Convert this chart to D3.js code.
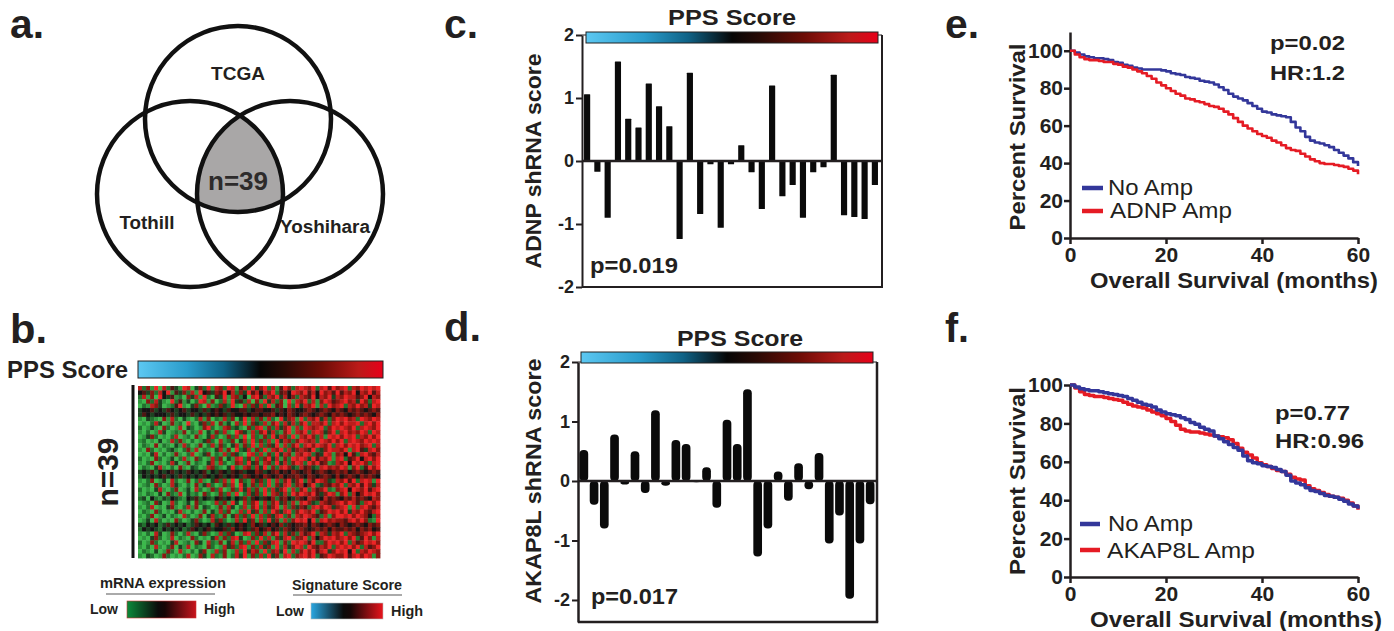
<!DOCTYPE html>
<html><head><meta charset="utf-8">
<script src="https://cdn.jsdelivr.net/npm/d3@7"></script>
<style>body{margin:0;background:#fff}svg{display:block;font-family:"Liberation Sans",Arial,Helvetica,sans-serif}</style>
</head><body><svg id="fig" width="1394" height="631"></svg>
<script>
// ---------------- DATA ----------------
const vennSets = ["TCGA", "Tothill", "Yoshihara"];
const vennOverlap = "n=39";
const barTicks = [2, 1, 0, -1, -2];
const adnpScores = [1.06, -0.17, -0.9, 1.58, 0.67, 0.53, 1.23, 0.87, 0.55, -1.24, 1.4, -0.84, -0.05, -1.06, -0.05,
  0.25, -0.18, -0.76, 1.2, -0.56, -0.38, -0.9, -0.18, -0.1, 1.37, -0.86, -0.89, -0.92, -0.38];
const akap8lScores = [0.52, -0.4, -0.8, 0.78, -0.06, 0.5, -0.2, 1.19, -0.08, 0.69, 0.62, -0.02, 0.23, -0.45, 1.03,
  0.62, 1.54, -1.27, -0.8, 0.16, -0.33, 0.3, -0.14, 0.47, -1.05, -0.58, -1.98, -1.05, -0.39];
const survTicksY = [0, 20, 40, 60, 80, 100];
const survTicksX = [0, 20, 40, 60];
const kmMonths = [0,1,2,3,4,5,6,7,8,9,10,11,12,13,14,15,16,17,18,19,20,21,22,23,24,25,26,27,28,29,30,
  31,32,33,34,35,36,37,38,39,40,41,42,43,44,45,46,47,48,49,50,51,52,53,54,55,56,57,58,59,60];
const eNoAmp = [100,99,98,97,96.5,96,96,95.5,95,94,93.5,92.5,92,91,90.5,90,90,90,90,89.5,89,88,87.5,87,86,85.5,85,84,83.5,83,82,
  80.5,79,77,75.5,74.5,73.5,72,70.5,69,67.5,67,66,65.5,65,64.5,62,59,57,54,52,51,50.5,49.5,48.5,47,45.5,44,42.5,40.5,38.5];
const eAdnpAmp = [100,98,96.5,95.5,95,95,94.5,94,94,93,92.5,91.5,91,90,89,88,86.5,85,83,81.5,80,78.5,77,76,74.5,74,73,72.5,71.5,70.5,70,
  69,67.5,66,64,62,60,58.5,57,55.5,54.5,53.5,52,51,49.5,48,47,46.5,45,43.5,42,41,40,39.5,39.5,39,38.5,38,37,36,34];
const fNoAmp = [100,99,98,97.5,97,97,96.5,96,95.5,95,94.5,94,93,92,91,90,89.5,88.5,87,86,85,84.5,84,83,82,80.5,79.5,78,77,76,73.5,
  72,70.5,69,67.5,66,63,60.5,59.5,59,58,57.5,57,56,55,53,50,49,48,46.5,45,44.5,43.5,42.5,42,41.5,40.5,39.5,38,37,35.5];
const fAkapAmp = [100,98.5,96.5,95,94.5,94,94,93.5,93,92.5,92,91,90,89,88.5,88,87,86,85,84,82.5,81,79,77,76,75.5,75.5,75,74.5,74,73.5,
  73,72.5,71.5,69.5,67,65,63.5,62,59.5,58.5,57.5,56.5,55.5,55,53.5,52,51,50.5,47.5,46,45,44,43,42,41.5,41,40,38.5,37,35];
// heatmap: 39 genes x samples, 0 = low (green) .. 4 = mid (black) .. 8 = high (red)
const heatRows = [
  "7261807253"+"1870362817"+"6287157283"+"6827158627"+"8768278586"+"7827687878",
  "4536274815"+"3627184536"+"5847263857"+"4768256487"+"6857486758"+"5768476857",
  "2716084351"+"2063718205"+"3817624078"+"5276837462"+"7658476837"+"6877568476",
  "1062731082"+"5130287160"+"2718352706"+"1837260817"+"6827168756"+"7867386278",
  "0217630125"+"8103620712"+"6328107263"+"7281560728"+"3768172867"+"8276867387",
  "3445343543"+"4534435345"+"4354455345"+"5445354654"+"4565456546"+"5465654565",
  "3543444353"+"4435343545"+"4535445455"+"4556454654"+"5654565465"+"6545656546",
  "1032106172"+"0310271602"+"1726038172"+"6172083671"+"8276837268"+"7867287687",
  "0102730161"+"2081036270"+"6130728163"+"2716827372"+"6827768278"+"6877827868",
  "2013106201"+"7032016820"+"1762310627"+"8162736817"+"2876782687"+"8768278768",
  "1020173012"+"1602170316"+"2710863172"+"6837216817"+"6827873682"+"7867687287",
  "0136201027"+"0120610372"+"0162718072"+"1628376281"+"7686271878"+"6878276868",
  "1201030172"+"6102013620"+"7126037182"+"6271837626"+"8767287686"+"8278768787",
  "0210602103"+"1720160271"+"6203716281"+"7263817268"+"2786876827"+"8687867827",
  "1062010231"+"0261702103"+"7160823716"+"2817682736"+"7658236877"+"6817853786",
  "0103702016"+"1027013602"+"1726310872"+"7162837617"+"6872538716"+"7485278657",
  "2010620130"+"2710620172"+"6031782617"+"2683716287"+"8738576817"+"8256847868",
  "1026010273"+"0160210371"+"7201672836"+"1762837268"+"7286856127"+"6848786278",
  "0210371020"+"6103201762"+"1038217627"+"3816278632"+"7563278676"+"8716825868",
  "3435243453"+"4354345243"+"5435453446"+"5345645465"+"4564565456"+"5645654565",
  "2434345343"+"5343435434"+"5345436545"+"4654564556"+"5465456546"+"4565465654",
  "1026013072"+"0160271036"+"2718062173"+"6281726836"+"8275876327"+"6858278718",
  "0120620173"+"1020613720"+"1627083162"+"7281637826"+"7468236576"+"8276858637",
  "2010371026"+"0130720162"+"7016283726"+"1827368172"+"6827568216"+"7848768578",
  "1021030621"+"7031206201"+"6271802736"+"2817637286"+"8768536871"+"6827468786",
  "2304213243"+"2143524324"+"5342436254"+"3546256436"+"5476547565"+"4657565476",
  "0120630172"+"0130621017"+"2618307268"+"1726836271"+"7863276567"+"8687527868",
  "1027010361"+"0271603201"+"6173027168"+"2736817263"+"6527868736"+"7818278657",
  "0210620103"+"7102016031"+"7260172836"+"1728637826"+"8768256878"+"6837686578",
  "1026013021"+"0720160372"+"1603726281"+"7263782617"+"6876527168"+"8786876427",
  "0130720106"+"2013620173"+"6201728361"+"7283617268"+"7848278676"+"6578686218",
  "3243423534"+"3423543425"+"4353454364"+"5345463545"+"5646545654"+"6545654656",
  "2434324343"+"4235434534"+"4536454356"+"4564536545"+"6545656465"+"5656465645",
  "1020730162"+"0271036201"+"7263017826"+"3716827362"+"7568276376"+"8276567868",
  "0103620170"+"2106201037"+"1627830162"+"8271637826"+"6827468786"+"7868258617",
  "2016201037"+"0120630721"+"6037162718"+"2637816287"+"8758226878"+"6827568786",
  "1020710260"+"3170210620"+"1736278162"+"7361827368"+"7286576827"+"8786827568",
  "0210301620"+"7102036017"+"2601728376"+"1826738172"+"6868578368"+"7848276876",
  "1032016201"+"0270163072"+"1602738162"+"7283617826"+"7868256876"+"6857868716"
];

// ---------------- HELPERS ----------------
const INK = '#231f20';
const svg = d3.select('#fig');
const defs = svg.append('defs');
function label(p, x, y, s, size, o = {}) {
  const t = p.append('text').attr('x', x).attr('y', y).text(s)
    .attr('font-size', size).attr('font-weight', o.weight || 'bold')
    .attr('fill', o.fill || INK).attr('text-anchor', o.anchor || 'start');
  if (o.w) t.attr('textLength', o.w).attr('lengthAdjust', 'spacingAndGlyphs');
  return t;
}
function gradient(id, stops) {
  const g = defs.append('linearGradient').attr('id', id).attr('x1', 0).attr('x2', 1).attr('y1', 0).attr('y2', 0);
  stops.forEach(s => g.append('stop').attr('offset', s[0]).attr('stop-color', s[1]));
}
gradient('pps', [[0, '#5cc8f2'], [0.2, '#2a9ccb'], [0.35, '#0f6286'], [0.5, '#060606'], [0.6, '#2a0a05'], [0.75, '#6e0d06'], [0.9, '#bb1a19'], [1, '#e8001a']]);
gradient('mrna', [[0, '#0b8b3b'], [0.45, '#0b0b0b'], [0.55, '#170606'], [1, '#c8141c']]);
gradient('sig', [[0, '#2aa7e2'], [0.45, '#0b0b0b'], [0.55, '#170606'], [1, '#e8141c']]);

// panel letters
label(svg, 10, 38, 'a.', 40, { w: 34 });
label(svg, 10, 343, 'b.', 40, { w: 37 });
label(svg, 444, 38, 'c.', 40, { w: 34 });
label(svg, 444, 341, 'd.', 40, { w: 37 });
label(svg, 945, 38, 'e.', 40, { w: 34 });
label(svg, 945, 342, 'f.', 40, { w: 24 });

// ---------------- PANEL A: VENN ----------------
(function () {
  const g = svg.append('g');
  const centers = [[238, 119], [190, 194], [290, 194]];
  const r = 93;
  centers.forEach((c, i) => {
    defs.append('clipPath').attr('id', 'vc' + i).append('circle').attr('cx', c[0]).attr('cy', c[1]).attr('r', r);
  });
  g.append('g').attr('clip-path', 'url(#vc0)')
    .append('g').attr('clip-path', 'url(#vc1)')
    .append('circle').attr('cx', centers[2][0]).attr('cy', centers[2][1]).attr('r', r).attr('fill', '#a9a7a7');
  g.selectAll('circle.v').data(vennSets).join('circle').attr('class', 'v')
    .attr('cx', (d, i) => centers[i][0]).attr('cy', (d, i) => centers[i][1]).attr('r', r)
    .attr('fill', 'none').attr('stroke', '#111').attr('stroke-width', 4.5);
  const lp = [[238, 80, 54], [147, 229, 55], [325, 233, 90]];
  vennSets.forEach((s, i) => label(g, lp[i][0], lp[i][1], s, 18, { anchor: 'middle', w: lp[i][2] }));
  label(g, 238, 190, vennOverlap, 26, { anchor: 'middle', w: 60, fill: '#2d2b2b' });
})();

// ---------------- PANEL B: HEATMAP ----------------
(function () {
  const g = svg.append('g');
  label(g, 7, 378, 'PPS Score', 24, { w: 121 });
  g.append('rect').attr('x', 138).attr('y', 361).attr('width', 245).attr('height', 17)
    .attr('fill', 'url(#pps)').attr('stroke', '#222').attr('stroke-width', 1);
  g.append('line').attr('x1', 133).attr('x2', 133).attr('y1', 385).attr('y2', 558).attr('stroke', '#111').attr('stroke-width', 3);
  g.append('text').attr('transform', 'translate(118,472) rotate(-90)').attr('text-anchor', 'middle')
    .attr('font-size', 30).attr('font-weight', 'bold').attr('fill', INK)
    .attr('textLength', 69).attr('lengthAdjust', 'spacingAndGlyphs').text('n=' + heatRows.length);
  const color = d3.scaleLinear().domain([0, 2, 4, 6, 8]).range(['#3cb84c', '#22702e', '#161414', '#8a1812', '#ec2426']);
  const yb = d3.scaleBand().domain(d3.range(heatRows.length)).range([386, 558]);
  heatRows.forEach((row, ri) => {
    const vals = row.split('').map(Number);
    const xb = d3.scaleBand().domain(d3.range(vals.length)).range([138, 380]);
    g.append('g').selectAll('rect').data(vals).join('rect')
      .attr('x', (d, i) => xb(i)).attr('y', yb(ri)).attr('width', xb.bandwidth() + 0.4).attr('height', yb.bandwidth() + 0.4)
      .attr('fill', d => color(d));
  });
  // legends
  label(g, 163, 588, 'mRNA expression', 14, { anchor: 'middle', w: 126 });
  g.append('line').attr('x1', 106).attr('x2', 215).attr('y1', 594).attr('y2', 594).attr('stroke', '#aaa').attr('stroke-width', 2);
  label(g, 90, 614, 'Low', 14, { w: 28 });
  g.append('rect').attr('x', 127).attr('y', 601).attr('width', 69).attr('height', 17).attr('fill', 'url(#mrna)').attr('stroke', '#c33').attr('stroke-width', 0.6);
  label(g, 204, 614, 'High', 14, { w: 31 });
  label(g, 347, 590, 'Signature Score', 14, { anchor: 'middle', w: 110 });
  g.append('line').attr('x1', 293).attr('x2', 402).attr('y1', 595).attr('y2', 595).attr('stroke', '#aaa').attr('stroke-width', 2);
  label(g, 276, 616, 'Low', 14, { w: 28 });
  g.append('rect').attr('x', 311).attr('y', 603).attr('width', 72).attr('height', 16).attr('fill', 'url(#sig)').attr('stroke', '#bbb').attr('stroke-width', 0.6);
  label(g, 391, 616, 'High', 14, { w: 32 });
})();

// ---------------- PANELS C / D: BARS ----------------
function barPanel(vals, o) {
  const g = svg.append('g');
  const x = d3.scaleBand().domain(d3.range(vals.length)).range(o.band).paddingInner(o.pi).paddingOuter(o.po);
  const y = d3.scaleLinear().domain(o.dom).range(o.yr);
  const top = o.yr[1], bot = o.yr[0];
  g.append('line').attr('x1', o.right).attr('x2', o.right).attr('y1', top).attr('y2', bot).attr('stroke', INK).attr('stroke-width', o.fw);
  g.append('line').attr('x1', o.ax).attr('x2', o.right + o.fw / 2).attr('y1', bot).attr('y2', bot).attr('stroke', INK).attr('stroke-width', o.fw);
  g.append('line').attr('x1', o.ax).attr('x2', o.right).attr('y1', top).attr('y2', top).attr('stroke', INK).attr('stroke-width', 1.2);
  g.append('g').attr('transform', `translate(${o.ax},0)`)
    .call(d3.axisLeft(y).tickValues(barTicks).tickSize(6).tickSizeOuter(0).tickPadding(2).tickFormat(d => String(d)))
    .call(a => a.select('.domain').attr('stroke', INK).attr('stroke-width', o.fw))
    .call(a => a.selectAll('.tick line').attr('stroke', INK).attr('stroke-width', 2))
    .call(a => a.selectAll('.tick text').attr('fill', INK).attr('font-size', 18).attr('font-weight', 'bold')
      .attr('font-family', '"Liberation Sans",Arial,sans-serif'));
  g.selectAll('rect.bar').data(vals).join('rect').attr('class', 'bar')
    .attr('x', (d, i) => x(i)).attr('width', x.bandwidth())
    .attr('y', d => y(Math.max(0, d))).attr('height', d => Math.abs(y(d) - y(0)))
    .attr('rx', o.rx).attr('fill', '#0a0a0a');
  g.append('line').attr('x1', o.ax).attr('x2', o.right).attr('y1', y(0)).attr('y2', y(0)).attr('stroke', INK).attr('stroke-width', 2.5);
  g.append('rect').attr('x', o.cb[0]).attr('y', o.cb[1]).attr('width', o.cb[2]).attr('height', o.cb[3])
    .attr('fill', 'url(#pps)').attr('stroke', '#222').attr('stroke-width', 1);
  label(g, o.title[0], o.title[1], 'PPS Score', 22, { anchor: 'middle', w: o.title[2] });
  g.append('text').attr('transform', `translate(${o.yl[0]},${o.yl[1]}) rotate(-90)`).attr('text-anchor', 'middle')
    .attr('font-size', 22).attr('font-weight', 'bold').attr('fill', INK)
    .attr('textLength', o.yl[2]).attr('lengthAdjust', 'spacingAndGlyphs').text(o.ylabel);
  label(g, o.p[0], o.p[1], o.ptext, 22, { w: o.p[2] });
}
barPanel(adnpScores, {
  band: [583, 879], pi: 0.4, po: 0.1, dom: [-2, 2], yr: [287, 35], ax: 582, right: 882, fw: 2, rx: 0.5,
  cb: [586, 32, 292, 11], title: [732, 25, 128], yl: [541, 161, 215], ylabel: 'ADNP shRNA score',
  p: [590, 273, 88], ptext: 'p=0.019'
});
barPanel(akap8lScores, {
  band: [579, 875], pi: 0.15, po: 0.05, dom: [-2.37, 2], yr: [622, 362], ax: 578, right: 877, fw: 2.5, rx: 4,
  cb: [581, 352, 292, 11], title: [740, 346, 126], yl: [541, 481, 245], ylabel: 'AKAP8L shRNA score',
  p: [591, 604, 87], ptext: 'p=0.017'
});

// ---------------- PANELS E / F: KAPLAN-MEIER ----------------
function kmPanel(o) {
  const g = svg.append('g');
  const x = d3.scaleLinear().domain([0, 60]).range([1070, 1358]);
  const y = d3.scaleLinear().domain(o.dom).range(o.yr);
  const styleAxis = a => {
    a.select('.domain').attr('stroke', INK).attr('stroke-width', 2.5);
    a.selectAll('.tick line').attr('stroke', INK).attr('stroke-width', 2.5);
    a.selectAll('.tick text').attr('fill', INK).attr('font-size', 21).attr('font-weight', 'bold')
      .attr('font-family', '"Liberation Sans",Arial,sans-serif');
  };
  g.append('g').attr('transform', `translate(0,${o.yr[0]})`)
    .call(d3.axisBottom(x).tickValues(survTicksX).tickSize(6).tickSizeOuter(0).tickPadding(3)).call(styleAxis);
  g.append('g').attr('transform', 'translate(1070,0)')
    .call(d3.axisLeft(y).tickValues(survTicksY).tickSize(6).tickSizeOuter(0).tickPadding(1)).call(styleAxis);
  const line = d3.line().x((d, i) => x(kmMonths[i])).y(d => y(d)).curve(d3.curveStepAfter);
  o.series.forEach(s => {
    g.append('path').datum(s.v).attr('d', line).attr('fill', 'none').attr('stroke', s.c)
      .attr('stroke-width', o.lw).attr('stroke-linejoin', 'round');
  });
  o.legend.forEach(l => {
    g.append('line').attr('x1', l.x1).attr('x2', l.x2).attr('y1', l.y).attr('y2', l.y).attr('stroke', l.c).attr('stroke-width', 4.5);
    label(g, l.tx, l.ty, l.t, 22, { weight: 'normal', w: l.w });
  });
  o.stats.forEach(s => label(g, s[0], s[1], s[2], 21, { w: s[3] }));
  label(g, o.xl[0], o.xl[1], 'Overall Survival (months)', 22, { anchor: 'middle', w: o.xl[2] });
  g.append('text').attr('transform', `translate(${o.yl[0]},${o.yl[1]}) rotate(-90)`).attr('text-anchor', 'middle')
    .attr('font-size', 22).attr('font-weight', 'bold').attr('fill', INK)
    .attr('textLength', o.yl[2]).attr('lengthAdjust', 'spacingAndGlyphs').text('Percent Survival');
}
const BLUE = '#33379a', RED = '#e51b24';
kmPanel({
  dom: [0, 110], yr: [238, 32], lw: 2.6,
  series: [{ v: eNoAmp, c: BLUE }, { v: eAdnpAmp, c: RED }],
  legend: [{ x1: 1082, x2: 1103, y: 188, c: BLUE, tx: 1108, ty: 195, t: 'No Amp', w: 85 },
           { x1: 1082, x2: 1103, y: 211, c: RED, tx: 1110, ty: 218, t: 'ADNP Amp', w: 122 }],
  stats: [[1270, 50, 'p=0.02', 75], [1270, 80, 'HR:1.2', 75]],
  xl: [1234, 288, 288], yl: [1025, 137, 187]
});
kmPanel({
  dom: [0, 100], yr: [577, 385], lw: 3.5,
  series: [{ v: fAkapAmp, c: RED }, { v: fNoAmp, c: BLUE }],
  legend: [{ x1: 1080, x2: 1100, y: 524, c: BLUE, tx: 1108, ty: 531, t: 'No Amp', w: 85 },
           { x1: 1080, x2: 1100, y: 550, c: RED, tx: 1107, ty: 558, t: 'AKAP8L Amp', w: 148 }],
  stats: [[1275, 420, 'p=0.77', 75], [1275, 448, 'HR:0.96', 89]],
  xl: [1236, 627, 292], yl: [1025, 481, 188]
});
</script>
</body></html>
